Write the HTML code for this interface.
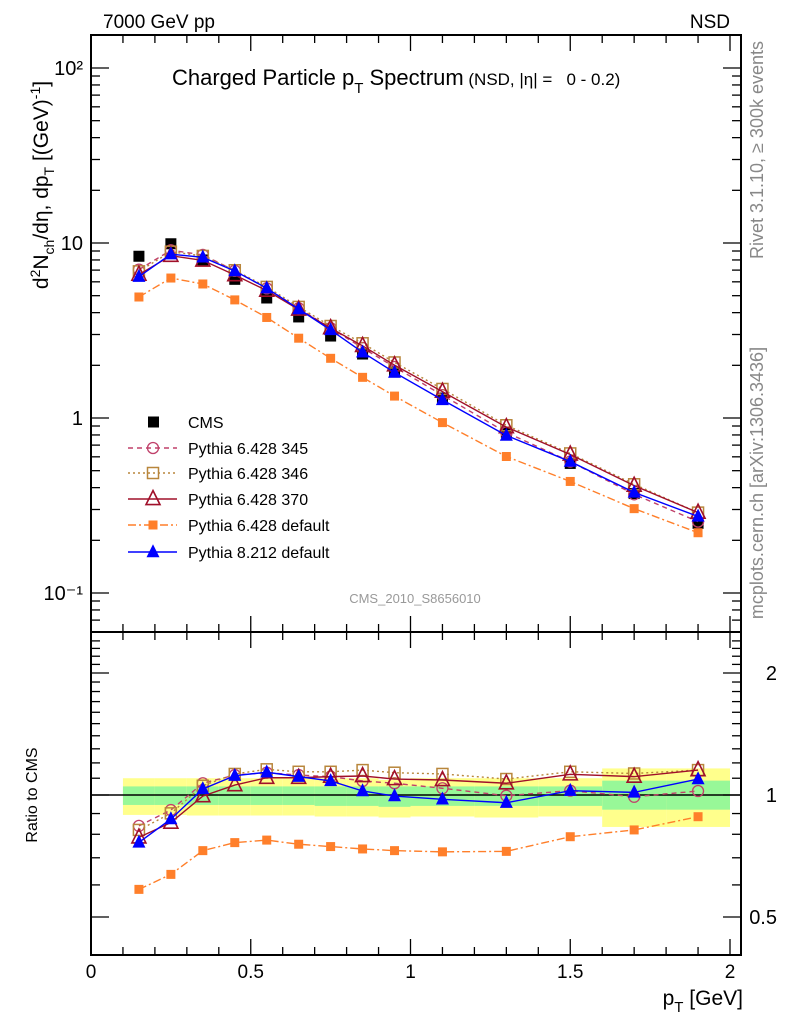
<!DOCTYPE html>
<html><head><meta charset="utf-8"><style>
body{margin:0;background:#fff}
svg{display:block;font-family:"Liberation Sans",sans-serif}
</style></head><body>
<svg id="c" width="786" height="1024" viewBox="0 0 786 1024">
<g id="bands"></g>
<g id="axes"></g>
<g id="series"></g>
<text x="103" y="28" font-size="19">7000 GeV pp</text>
<text x="730" y="28" font-size="19" text-anchor="end">NSD</text>
<text x="172" y="85" font-size="22" xml:space="preserve">Charged Particle p<tspan dy="8" font-size="15">T</tspan><tspan dy="-8"> Spectrum</tspan><tspan font-size="17"> (NSD, |η| =   0 - 0.2)</tspan></text>
<text x="415" y="603" font-size="13" fill="#999" text-anchor="middle">CMS_2010_S8656010</text>
<text transform="translate(763,150) rotate(-90)" font-size="18" fill="#888" text-anchor="middle">Rivet 3.1.10, ≥ 300k events</text>
<text transform="translate(763,483) rotate(-90)" font-size="18" fill="#888" text-anchor="middle">mcplots.cern.ch [arXiv:1306.3436]</text>
<text transform="translate(48,185) rotate(-90)" font-size="21" text-anchor="middle">d<tspan dy="-8" font-size="14">2</tspan><tspan dy="8">N</tspan><tspan dy="6" font-size="14">ch</tspan><tspan dy="-6">/dη, dp</tspan><tspan dy="6" font-size="14">T</tspan><tspan dy="-6"> [(GeV)</tspan><tspan dy="-8" font-size="14">-1</tspan><tspan dy="8">]</tspan></text>
<text transform="translate(37,795) rotate(-90)" font-size="16" text-anchor="middle">Ratio to CMS</text>
<text x="743" y="1005" font-size="21" text-anchor="end">p<tspan dy="7" font-size="15">T</tspan><tspan dy="-7"> [GeV]</tspan></text>
<g id="legend"></g>
</svg>
<script>
const xs=[0.15,0.25,0.35,0.45,0.55,0.65,0.75,0.85,0.95,1.1,1.3,1.5,1.7,1.9];
const cms=[8.4,9.9,8.0,6.2,4.85,3.78,2.94,2.32,1.83,1.30,0.83,0.55,0.37,0.25];
const r345=[0.839,0.918,1.069,1.12,1.135,1.12,1.11,1.083,1.069,1.039,0.996,1.025,0.99,1.023];
const r346=[0.82,0.901,1.054,1.127,1.157,1.141,1.141,1.152,1.135,1.127,1.095,1.141,1.13,1.152];
const r370=[0.786,0.855,0.994,1.058,1.103,1.103,1.11,1.114,1.095,1.089,1.069,1.125,1.11,1.152];
const rdef=[0.585,0.637,0.729,0.763,0.774,0.756,0.746,0.736,0.729,0.724,0.726,0.789,0.82,0.884];
const r8=[0.764,0.872,1.035,1.116,1.138,1.11,1.083,1.023,0.994,0.976,0.957,1.025,1.015,1.095];
const binLo=[0.1,0.2,0.3,0.4,0.5,0.6,0.7,0.8,0.9,1.0,1.2,1.4,1.6,1.8];
const binHi=[0.2,0.3,0.4,0.5,0.6,0.7,0.8,0.9,1.0,1.2,1.4,1.6,1.8,2.0];
const greenHi=[1.05,1.05,1.05,1.05,1.05,1.05,1.05,1.05,1.05,1.05,1.05,1.05,1.085,1.085];
const greenLo=[0.945,0.945,0.945,0.945,0.945,0.945,0.94,0.94,0.935,0.94,0.94,0.94,0.92,0.92];
const yelHi=[1.10,1.10,1.10,1.10,1.10,1.10,1.10,1.10,1.09,1.10,1.10,1.10,1.163,1.163];
const yelLo=[0.893,0.893,0.89,0.89,0.89,0.89,0.885,0.885,0.88,0.885,0.88,0.885,0.834,0.834];
const mainTicks=[0.1,1,10,100];
const mainTickLabels=["10⁻¹","1","10","10²"];
const ratioTicks=[0.5,1,2];
const ratioTickLabels=["0.5","1","2"];
const xTicks=[0,0.5,1,1.5,2];
const xTickLabels=["0","0.5","1","1.5","2"];

const L=91,R=741,T=35,MB=632,RB=955;
const X=v=>91+v*319.5;
const Ym=v=>418-175*Math.log10(v);
const Yr=v=>795-405.3*Math.log10(v);
const NS='http://www.w3.org/2000/svg';
function mk(p,tag,a){const e=document.createElementNS(NS,tag);for(const k in a)e.setAttribute(k,a[k]);p.appendChild(e);return e;}
const gB=document.getElementById('bands'),gA=document.getElementById('axes'),gS=document.getElementById('series'),gL=document.getElementById('legend');

for(let i=0;i<binLo.length;i++){
 let y=mk(gB,'rect',{x:X(binLo[i]),y:Yr(yelHi[i]),width:X(binHi[i])-X(binLo[i]),height:Yr(yelLo[i])-Yr(yelHi[i]),fill:'#ffff8c'});
 
 
 let g=mk(gB,'rect',{x:X(binLo[i]),y:Yr(greenHi[i]),width:X(binHi[i])-X(binLo[i]),height:Yr(greenLo[i])-Yr(greenHi[i]),fill:'#98f898'});
 
 
}
mk(gA,'rect',{x:L,y:T,width:R-L,height:MB-T,fill:'none',stroke:'#000','stroke-width':2});
mk(gA,'rect',{x:L,y:MB,width:R-L,height:RB-MB,fill:'none',stroke:'#000','stroke-width':2});
mk(gA,'line',{x1:L,x2:R,y1:Yr(1),y2:Yr(1),stroke:'#000','stroke-width':1.5});
for(let k=0;k<=20;k++){const v=k/10,x=X(v),maj=k%5==0,len=maj?16:8;
 [[T,1],[MB,-1],[MB,1],[RB,-1]].forEach(([y0,d])=>mk(gA,'line',{x1:x,x2:x,y1:y0,y2:y0+d*len,stroke:'#000','stroke-width':1.3}));}
xTicks.forEach((v,i)=>{const t=mk(gA,'text',{x:X(v),y:978,'font-size':19,'text-anchor':'middle'});t.textContent=xTickLabels[i];
 
 });
for(let e=-2;e<=2;e++)for(let m=1;m<=9;m++){const v=m*Math.pow(10,e),y=Ym(v);if(y<T||y>MB)continue;const len=m==1?18:9;
 mk(gA,'line',{x1:L,x2:L+len,y1:y,y2:y,stroke:'#000','stroke-width':1.3});mk(gA,'line',{x1:R,x2:R-len,y1:y,y2:y,stroke:'#000','stroke-width':1.3});}
mainTicks.forEach((v,i)=>{const t=mk(gA,'text',{x:83,y:Ym(v)+7,'font-size':20,'text-anchor':'end'});t.textContent=mainTickLabels[i];
 
 });
const rt=[0.4,0.5,0.6,0.7,0.8,0.9,1,1.1,1.2,1.3,1.4,1.5,1.6,1.7,1.8,1.9,2,2.1,2.2,2.3,2.4];
rt.forEach(v=>{const y=Yr(v);if(y<MB||y>RB)return;const len=ratioTicks.includes(v)?18:9;
 mk(gA,'line',{x1:L,x2:L+len,y1:y,y2:y,stroke:'#000','stroke-width':1.3});mk(gA,'line',{x1:R,x2:R-len,y1:y,y2:y,stroke:'#000','stroke-width':1.3});});
ratioTicks.forEach((v,i)=>{const t=mk(gA,'text',{x:777,y:Yr(v)+7,'font-size':20,'text-anchor':'end'});t.textContent=ratioTickLabels[i];
 
 });

function marker(g,type,x,y,col,s){
 if(type=='circ')return mk(g,'circle',{cx:x,cy:y,r:s,fill:'none',stroke:col,'stroke-width':1.3});
 if(type=='osq')return mk(g,'rect',{x:x-s,y:y-s,width:2*s,height:2*s,fill:'none',stroke:col,'stroke-width':1.5});
 if(type=='fsq')return mk(g,'rect',{x:x-s,y:y-s,width:2*s,height:2*s,fill:col});
 if(type=='otri')return mk(g,'polygon',{points:`${x},${y-s*1.2} ${x-s},${y+s*0.8} ${x+s},${y+s*0.8}`,fill:'none',stroke:col,'stroke-width':1.6});
 if(type=='ftri')return mk(g,'polygon',{points:`${x},${y-s*1.2} ${x-s},${y+s*0.8} ${x+s},${y+s*0.8}`,fill:col});
}
const defs=[
 {n:'pythia-6428-345',r:r345,col:'#c0406a',dash:'5,4',m:'circ',s:5.5,lbl:'Pythia 6.428 345'},
 {n:'pythia-6428-346',r:r346,col:'#b8863b',dash:'2,3',m:'osq',s:5.5,lbl:'Pythia 6.428 346'},
 {n:'pythia-6428-370',r:r370,col:'#a0102a',dash:'',m:'otri',s:7,lbl:'Pythia 6.428 370'},
 {n:'pythia-6428-default',r:rdef,col:'#ff7f2a',dash:'8,3,2,3',m:'fsq',s:4.5,lbl:'Pythia 6.428 default'},
 {n:'pythia-8212-default',r:r8,col:'#0000ff',dash:'',m:'ftri',s:6.5,lbl:'Pythia 8.212 default'}];
cms.forEach((v,i)=>{const e=mk(gS,'rect',{x:X(xs[i])-5.5,y:Ym(v)-5.5,width:11,height:11,fill:'#000'});
 
 });
defs.forEach(d=>{
 const g=mk(gS,'g',{});
 
 
 const pm=xs.map((x,i)=>X(x)+','+Ym(cms[i]*d.r[i])).join(' ');
 const pr=xs.map((x,i)=>X(x)+','+Yr(d.r[i])).join(' ');
 [pm,pr].forEach(p=>mk(g,'polyline',{points:p,fill:'none',stroke:d.col,'stroke-width':1.4,'stroke-dasharray':d.dash}));
 xs.forEach((x,i)=>{marker(g,d.m,X(x),Ym(cms[i]*d.r[i]),d.col,d.s);marker(g,d.m,X(x),Yr(d.r[i]),d.col,d.s);});
});
const ly=[422,448,473,499,525,552];
let e=mk(gL,'rect',{x:148,y:ly[0]-5.5,width:11,height:11,fill:'#000'});
let t=mk(gL,'text',{x:188,y:ly[0]+6,'font-size':16});t.textContent='CMS';


defs.forEach((d,i)=>{const y=ly[i+1];
 mk(gL,'line',{x1:128,x2:177,y1:y,y2:y,stroke:d.col,'stroke-width':1.4,'stroke-dasharray':d.dash});
 marker(gL,d.m,153,y,d.col,d.s);
 const tt=mk(gL,'text',{x:188,y:y+6,'font-size':16});tt.textContent=d.lbl;
 
 });
</script>
</body></html>
